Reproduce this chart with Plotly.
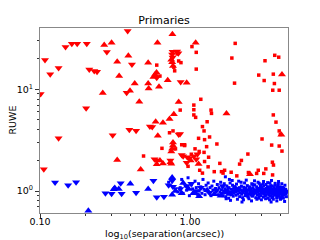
import plotly.graph_objects as go

# ---- data (separation in arcsec, RUWE) ----
red_up_pts = [(0.262, 9.2), (0.268, 27.3), (0.300, 28.7), (0.327, 18.7), (0.337, 13.5),
              (0.388, 21.4), (0.398, 9.7), (0.428, 11.4), (0.459, 7.55), (0.526, 18.3),
              (0.526, 11.4), (0.530, 10.2), (0.607, 28.7), (0.598, 14.6), (0.585, 14.0),
              (0.621, 10.6), (0.71, 12.3), (0.763, 34.7), (0.76, 18.5), (0.77, 17.0),
              (0.75, 19.5), (1.09, 28.7), (0.84, 7.5), (0.78, 5.7), (0.73, 5.1),
              (0.66, 4.7), (0.59, 4.8), (0.61, 3.5), (0.77, 3.0), (0.77, 2.8),
              (0.76, 2.6), (0.75, 2.45), (0.469, 1.63), (0.327, 2.02), (0.60, 1.83),
              (0.66, 1.87), (0.63, 2.0), (0.74, 1.92), (0.75, 1.85), (1.01, 2.0),
              (1.14, 1.84), (1.75, 5.8), (2.51, 1.46), (4.06, 3.58), (4.1, 14.0),
              (0.57, 13.2), (0.95, 11.6)]

red_down_pts = [(0.101, 9.0), (0.108, 19.4), (0.117, 14.1), (0.106, 1.64), (0.133, 16.2),
                (0.133, 3.30), (0.148, 26.1), (0.163, 28.1), (0.177, 28.1), (0.205, 28.1),
                (0.203, 6.5), (0.213, 15.7), (0.230, 15.1), (0.240, 14.9), (0.279, 23.3),
                (0.305, 3.53), (0.384, 37.4), (0.394, 4.0), (0.410, 17.5), (0.437, 3.92),
                (0.378, 9.26), (0.60, 13.0), (0.54, 4.3), (0.56, 4.25), (0.58, 2.05),
                (0.60, 2.0), (0.765, 23.4), (0.836, 22.6), (0.82, 23.5), (0.866, 11.8),
                (0.858, 3.63), (0.84, 3.6), (0.88, 2.26), (0.90, 2.2), (0.96, 2.15),
                (0.99, 2.1), (0.95, 1.9), (1.06, 2.2), (1.10, 2.05), (1.12, 2.3),
                (0.74, 2.0), (0.76, 22.0), (0.765, 20.5)]

red_dot_pts = [(0.49, 2.21), (0.60, 17.3), (0.79, 15.2), (0.87, 18.3), (0.86, 6.25),
               (0.65, 2.63), (0.92, 2.85), (1.03, 26.3), (1.10, 23.1), (1.10, 15.8),
               (1.18, 7.98), (1.06, 7.0), (1.06, 6.3), (1.06, 5.6), (1.09, 5.3),
               (1.14, 3.3), (1.21, 4.3), (1.30, 4.8), (1.38, 6.25), (1.39, 5.8),
               (1.24, 3.9), (1.25, 3.2), (1.29, 2.73), (1.51, 2.9), (1.24, 2.4),
               (1.25, 1.95), (1.32, 1.73), (1.16, 1.6), (1.21, 1.5), (1.45, 1.55),
               (1.58, 1.87), (1.62, 1.55), (1.66, 1.5), (1.88, 1.53), (2.05, 1.41),
               (2.14, 1.84), (2.2, 2.0), (2.43, 2.31), (2.78, 1.49), (2.85, 1.6),
               (3.1, 1.49), (3.55, 1.44), (2.0, 28.3), (1.9, 20.3), (1.98, 11.5),
               (3.16, 19.1), (2.87, 13.8), (3.12, 12.2), (3.59, 14.1), (3.65, 11.4),
               (3.56, 9.8), (3.93, 9.8), (3.67, 21.6), (3.9, 20.7), (3.59, 5.6),
               (3.74, 4.76), (3.93, 3.9), (4.0, 3.6), (3.93, 2.77), (4.1, 2.47),
               (3.5, 2.83), (3.02, 3.25), (3.54, 1.92), (3.6, 1.8), (3.2, 1.65),
               (0.77, 3.9), (0.88, 2.85), (0.73, 3.74), (0.80, 2.6), (0.92, 2.8),
               (0.82, 22.3), (0.84, 19.0), (0.78, 16.5), (0.63, 13.5), (0.97, 1.75),
               (1.02, 2.3), (1.08, 2.6), (1.15, 2.45), (1.35, 3.4), (1.33, 2.15),
               (1.70, 1.60), (2.45, 1.52)]

blue_up_pts = [(0.21, 0.64), (0.31, 1.04), (0.315, 1.07), (0.335, 1.05), (0.40, 1.18),
               (0.526, 1.05), (0.76, 0.92), (0.80, 1.0), (0.88, 0.95), (0.98, 1.05),
               (1.15, 0.89), (1.3, 1.02), (1.45, 0.93), (1.7, 0.98), (2.0, 1.08),
               (2.6, 0.96), (3.3, 1.04), (3.9, 0.95), (4.3, 1.0), (0.9, 1.2),
               (0.76, 1.36), (1.05, 0.95), (1.6, 0.90), (2.3, 1.0)]

blue_down_pts = [(0.126, 1.21), (0.154, 1.14), (0.174, 1.22), (0.273, 0.95), (0.30, 0.94),
                 (0.345, 1.19), (0.35, 0.94), (0.437, 0.96), (0.57, 1.26), (0.60, 0.87),
                 (0.67, 0.88), (0.72, 1.14), (0.76, 1.26), (0.77, 1.10), (0.86, 1.05),
                 (0.95, 1.12), (1.02, 1.18), (1.10, 1.00), (1.18, 1.08), (1.35, 0.96),
                 (1.50, 1.02), (1.65, 1.12), (1.85, 0.95), (2.1, 1.05), (2.4, 0.92),
                 (3.0, 1.0), (3.6, 0.98), (4.2, 1.02)]

blue_dot_pts = [
    (0.72, 1.22), (0.80, 1.05), (0.83, 0.98), (0.86, 1.08), (0.88, 1.30), (0.90, 0.95),
    (0.93, 1.12), (0.95, 1.02), (0.97, 1.35), (0.99, 0.90), (1.02, 1.15), (1.04, 1.05),
    (1.06, 0.97), (1.08, 1.25), (1.10, 1.08), (1.12, 0.93), (1.14, 1.18), (1.15, 1.00),
    (1.18, 1.10), (1.20, 0.95), (1.22, 1.30), (1.24, 1.04), (1.26, 0.92), (1.28, 1.14),
    (1.30, 1.00), (1.32, 1.20), (1.34, 0.96), (1.36, 1.08), (1.38, 0.90), (1.40, 1.12),
    (1.42, 1.02), (1.44, 1.25), (1.46, 0.94), (1.48, 1.06), (1.50, 1.00), (1.52, 1.16),
    (1.54, 0.92), (1.56, 1.08), (1.58, 0.98), (1.60, 1.22),
    (1.62, 1.03), (1.63, 0.95), (1.65, 1.10), (1.66, 0.90), (1.68, 1.00), (1.69, 1.18),
    (1.70, 0.96), (1.71, 1.05), (1.72, 1.38), (1.73, 0.88), (1.75, 1.02), (1.76, 1.12),
    (1.78, 0.93), (1.79, 1.06), (1.80, 1.00), (1.81, 0.85), (1.82, 1.08), (1.84, 0.97),
    (1.85, 1.20), (1.86, 0.81), (1.88, 1.04), (1.89, 0.92), (1.90, 0.98), (1.92, 1.14),
    (1.93, 1.01), (1.94, 0.89), (1.96, 1.10), (1.97, 0.95), (2.00, 1.06), (2.01, 0.99),
    (2.03, 0.91), (2.04, 1.17), (2.06, 1.03), (2.08, 0.94), (2.10, 1.00), (2.11, 1.25),
    (2.13, 1.08), (2.14, 0.88), (2.16, 0.96), (2.18, 1.02), (2.20, 1.12), (2.21, 0.93),
    (2.23, 1.01), (2.24, 0.86), (2.26, 0.97), (2.28, 1.09), (2.30, 1.04), (2.31, 1.20),
    (2.33, 0.90), (2.34, 1.00), (2.36, 1.07), (2.38, 0.95), (2.40, 0.99), (2.41, 1.13),
    (2.43, 1.02), (2.44, 0.87), (2.46, 0.94), (2.48, 1.06), (2.50, 1.10), (2.51, 1.00),
    (2.53, 0.97), (2.54, 0.91), (2.56, 1.05), (2.58, 1.18), (2.60, 1.00), (2.61, 0.89),
    (2.63, 1.08), (2.64, 0.95), (2.66, 0.93), (2.68, 1.03), (2.70, 1.15), (2.71, 0.98),
    (2.73, 1.01), (2.74, 0.86), (2.76, 0.96), (2.78, 1.10), (2.80, 1.04), (2.81, 0.92),
    (2.83, 0.99), (2.84, 1.22), (2.86, 1.06), (2.88, 0.88), (2.90, 0.94), (2.91, 1.01),
    (2.93, 1.02), (2.94, 1.12), (2.96, 0.90), (2.98, 0.97), (3.00, 1.08), (3.01, 1.00),
    (3.03, 0.95), (3.04, 1.05), (3.06, 1.00), (3.08, 0.87), (3.10, 1.12), (3.11, 0.93),
    (3.13, 0.98), (3.14, 1.04), (3.16, 1.03), (3.18, 0.90), (3.20, 0.92), (3.21, 1.16),
    (3.23, 1.06), (3.24, 0.99), (3.26, 0.97), (3.28, 1.09), (3.30, 1.01), (3.31, 0.85),
    (3.33, 1.10), (3.34, 0.94), (3.36, 0.95), (3.38, 1.02), (3.40, 1.04), (3.41, 1.20),
    (3.43, 0.99), (3.44, 0.89), (3.46, 1.07), (3.48, 0.96), (3.50, 0.93), (3.51, 1.03),
    (3.53, 1.00), (3.54, 1.12), (3.56, 0.88), (3.58, 0.97), (3.60, 1.05), (3.61, 1.00),
    (3.63, 0.96), (3.64, 1.08), (3.66, 1.02), (3.68, 0.91), (3.70, 1.14), (3.71, 0.94),
    (3.73, 0.98), (3.74, 1.05), (3.76, 1.03), (3.78, 0.86), (3.80, 0.92), (3.81, 1.01),
    (3.83, 1.09), (3.84, 0.95), (3.86, 1.00), (3.88, 1.18), (3.90, 0.95), (3.91, 1.04),
    (3.93, 1.06), (3.94, 0.90), (3.96, 0.99), (3.98, 1.10), (4.00, 1.02), (4.01, 0.83),
    (4.03, 0.94), (4.04, 1.07), (4.06, 1.08), (4.08, 0.97), (4.10, 1.00), (4.11, 0.92),
    (4.13, 0.96), (4.14, 1.03), (4.16, 1.04), (4.18, 0.99), (4.20, 0.91), (4.21, 1.06),
    (4.23, 1.01), (4.24, 0.95), (4.26, 0.97), (4.28, 1.02), (4.30, 1.03), (4.32, 0.98),
    (4.34, 0.99), (4.36, 0.94), (4.38, 0.96), (4.40, 1.00),
    (2.52, 1.05), (2.67, 0.99), (2.82, 1.03), (2.97, 1.06), (3.12, 0.96), (3.27, 1.02),
    (3.42, 0.98), (3.57, 1.03), (3.72, 1.00), (3.87, 0.97), (4.02, 1.01), (4.17, 0.97),
    (4.33, 1.04), (3.35, 0.91), (3.65, 0.93), (3.95, 1.03), (4.25, 0.93), (2.35, 1.03),
    (2.05, 1.04), (1.77, 0.99), (2.95, 1.15), (3.45, 1.13), (3.85, 1.11), (4.15, 1.09),
    # wider scatter of the band
    (1.74, 0.84), (1.91, 1.27), (2.07, 0.83), (2.19, 1.22), (2.27, 0.82), (2.37, 1.28),
    (2.47, 0.84), (2.57, 0.80), (2.69, 1.26), (2.79, 0.83), (2.89, 1.19), (2.99, 0.82),
    (3.09, 1.24), (3.19, 0.84), (3.29, 1.21), (3.39, 0.82), (3.49, 1.27), (3.59, 0.83),
    (3.69, 1.19), (3.79, 0.80), (3.89, 1.24), (3.99, 0.86), (4.09, 1.18), (4.19, 0.85),
    (4.29, 1.14), (4.39, 0.88), (3.47, 0.78), (4.27, 0.79), (2.22, 0.78), (1.83, 1.30),
    (2.62, 1.16), (3.07, 1.17), (3.52, 0.86), (3.82, 0.87), (4.12, 0.87), (2.87, 0.85),
]

x_tick_vals = [0.1, 1.0]
x_tick_text = ["0.10", "1.00"]
x_minor_vals = [0.2, 0.3, 0.4, 0.5, 0.6, 0.7, 0.8, 0.9, 2, 3, 4]
y_tick_vals = [1, 10]
y_tick_text = ["10<sup>0</sup>", "10<sup>1</sup>"]
y_minor_vals = [0.7, 0.8, 0.9, 2, 3, 4, 5, 6, 7, 8, 9, 20, 30]

RED = "#ff0000"
BLUE = "#0000ff"
FONT = "DejaVu Sans"

fig = go.Figure()

def add(pts, color, symbol, size):
    fig.add_trace(go.Scatter(
        x=[p[0] for p in pts], y=[p[1] for p in pts], mode="markers",
        marker=dict(color=color, symbol=symbol, size=size, line=dict(width=0)),
        showlegend=False, hoverinfo="skip"))

add(blue_dot_pts, BLUE, "square", 3)
add(blue_up_pts, BLUE, "triangle-up", 7)
add(blue_down_pts, BLUE, "triangle-down", 7)
add(red_dot_pts, RED, "square", 3.5)
add(red_up_pts, RED, "triangle-up", 7)
add(red_down_pts, RED, "triangle-down", 7)

axis_common = dict(
    showline=True, mirror=True, linecolor="#888888", linewidth=1.2,
    showgrid=False, zeroline=False, ticks="outside", ticklen=4, tickwidth=1,
    tickcolor="#333333", tickfont=dict(family=FONT, size=9.5, color="black"),
    automargin=False,
)

fig.update_xaxes(type="log", range=[-1, 0.653], tickvals=x_tick_vals, ticktext=x_tick_text,
                 minor=dict(tickvals=x_minor_vals, ticks="outside", ticklen=2,
                            tickcolor="#333333", showgrid=False),
                 ticklabelstandoff=-5,
                 **axis_common)
fig.update_yaxes(type="log", range=[-0.216, 1.603], tickvals=y_tick_vals, ticktext=y_tick_text,
                 minor=dict(tickvals=y_minor_vals, ticks="outside", ticklen=2,
                            tickcolor="#333333", showgrid=False),
                 **axis_common)

fig.add_annotation(text="log<sub>10</sub>(separation(arcsec))", xref="paper", yref="paper",
                   x=0.5, y=-(234 - 213) / 185, xanchor="center", yanchor="middle",
                   showarrow=False, font=dict(family=FONT, size=9.5, color="black"))
fig.add_annotation(text="RUWE", xref="paper", yref="paper", textangle=-90,
                   x=-(40 - 12) / 248, y=0.5, xanchor="center", yanchor="middle",
                   showarrow=False, font=dict(family=FONT, size=9.5, color="black"))

fig.update_layout(
    width=320, height=240,
    margin=dict(l=40, r=32, t=28, b=27),
    paper_bgcolor="white", plot_bgcolor="white",
    title=dict(text="Primaries", x=(40 + 124) / 320, xanchor="center",
               y=1 - 20 / 240, yanchor="middle", yref="container",
               font=dict(family=FONT, size=11, color="black")),
)

fig.write_html("out.html", config={"displayModeBar": False},
               post_script="document.body.style.margin='0';document.body.style.overflow='hidden';")
